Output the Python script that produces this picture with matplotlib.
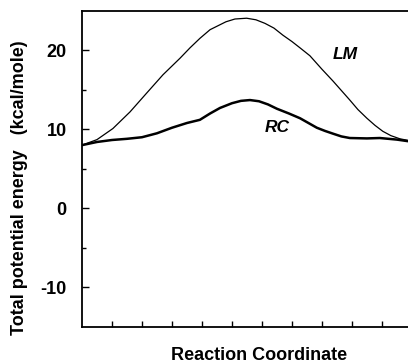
import numpy as np
import matplotlib
matplotlib.use("Agg")
import matplotlib.pyplot as plt

plt.rcParams['font.family'] = ['Liberation Sans', 'DejaVu Sans']
plt.rcParams['axes.unicode_minus'] = False

# curve values (reaction coordinate, kcal/mole)
lm_x = [0, 0.5, 1.03, 1.6, 2.16, 2.7, 3.27, 3.6, 3.93, 4.27, 4.8, 5.1, 5.49,
        5.8, 6.1, 6.4, 6.7, 7.0, 7.27, 7.6, 8.0, 8.37, 8.65, 8.93, 9.2, 9.5,
        9.77, 10.03, 10.3, 10.6, 10.87]
lm_y = [8.0, 8.7, 10.1, 12.2, 14.6, 16.9, 19.0, 20.3, 21.5, 22.6, 23.6, 23.95,
        24.05, 23.85, 23.4, 22.8, 21.9, 21.1, 20.3, 19.3, 17.6, 16.1, 14.9,
        13.7, 12.5, 11.4, 10.5, 9.75, 9.2, 8.8, 8.6]

rc_x = [0, 0.5, 1.0, 1.5, 2.0, 2.5, 3.0, 3.5, 3.93, 4.27, 4.6, 5.0, 5.3, 5.6,
        5.9, 6.2, 6.5, 6.9, 7.27, 7.55, 7.83, 8.1, 8.37, 8.65, 8.93, 9.5, 9.93,
        10.5, 10.87]
rc_y = [8.0, 8.4, 8.65, 8.8, 9.0, 9.5, 10.2, 10.8, 11.2, 12.0, 12.7, 13.3,
        13.6, 13.7, 13.55, 13.15, 12.6, 12.0, 11.4, 10.8, 10.2, 9.8, 9.45, 9.1,
        8.9, 8.85, 8.9, 8.7, 8.5]

y_ticks = [-10, 0, 10, 20]
x_ticks = list(range(1, 11))

fig = plt.figure(figsize=(4.08, 3.64), dpi=100)
ax = fig.add_axes([0.201, 0.1016, 0.799, 0.869])

ax.plot(lm_x, lm_y, color='black', lw=0.9)
ax.plot(rc_x, rc_y, color='black', lw=1.8)

ax.set_xlim(0, 10.87)
ax.set_ylim(-15, 25)
ax.set_yticks(y_ticks)
ax.set_yticks([-5, 5, 15], minor=True)
ax.set_xticks(x_ticks)
ax.set_xticklabels([])
ax.tick_params(axis='both', which='both', direction='in', width=1)
ax.tick_params(axis='y', which='major', length=5, pad=11, labelsize=13)
ax.tick_params(axis='y', which='minor', length=3)
ax.tick_params(axis='x', which='major', length=4)
for lab in ax.get_yticklabels():
    lab.set_fontweight('bold')

ax.spines['right'].set_visible(False)
for s in ['left', 'bottom', 'top']:
    ax.spines[s].set_linewidth(1.3)

ax.text(8.77, 19.5, 'LM', fontsize=12.5, fontweight='bold', style='italic',
        ha='center', va='center')
ax.text(6.5, 10.2, 'RC', fontsize=12.5, fontweight='bold', style='italic',
        ha='center', va='center')

fig.text(0.049, 0.485, 'Total potential energy   (kcal/mole)', rotation=90,
         fontsize=13, fontweight='bold', ha='center', va='center')
fig.text(0.635, 0.022, 'Reaction Coordinate', fontsize=13, fontweight='bold',
         ha='center', va='center')

fig.savefig('out.png', dpi=100)
